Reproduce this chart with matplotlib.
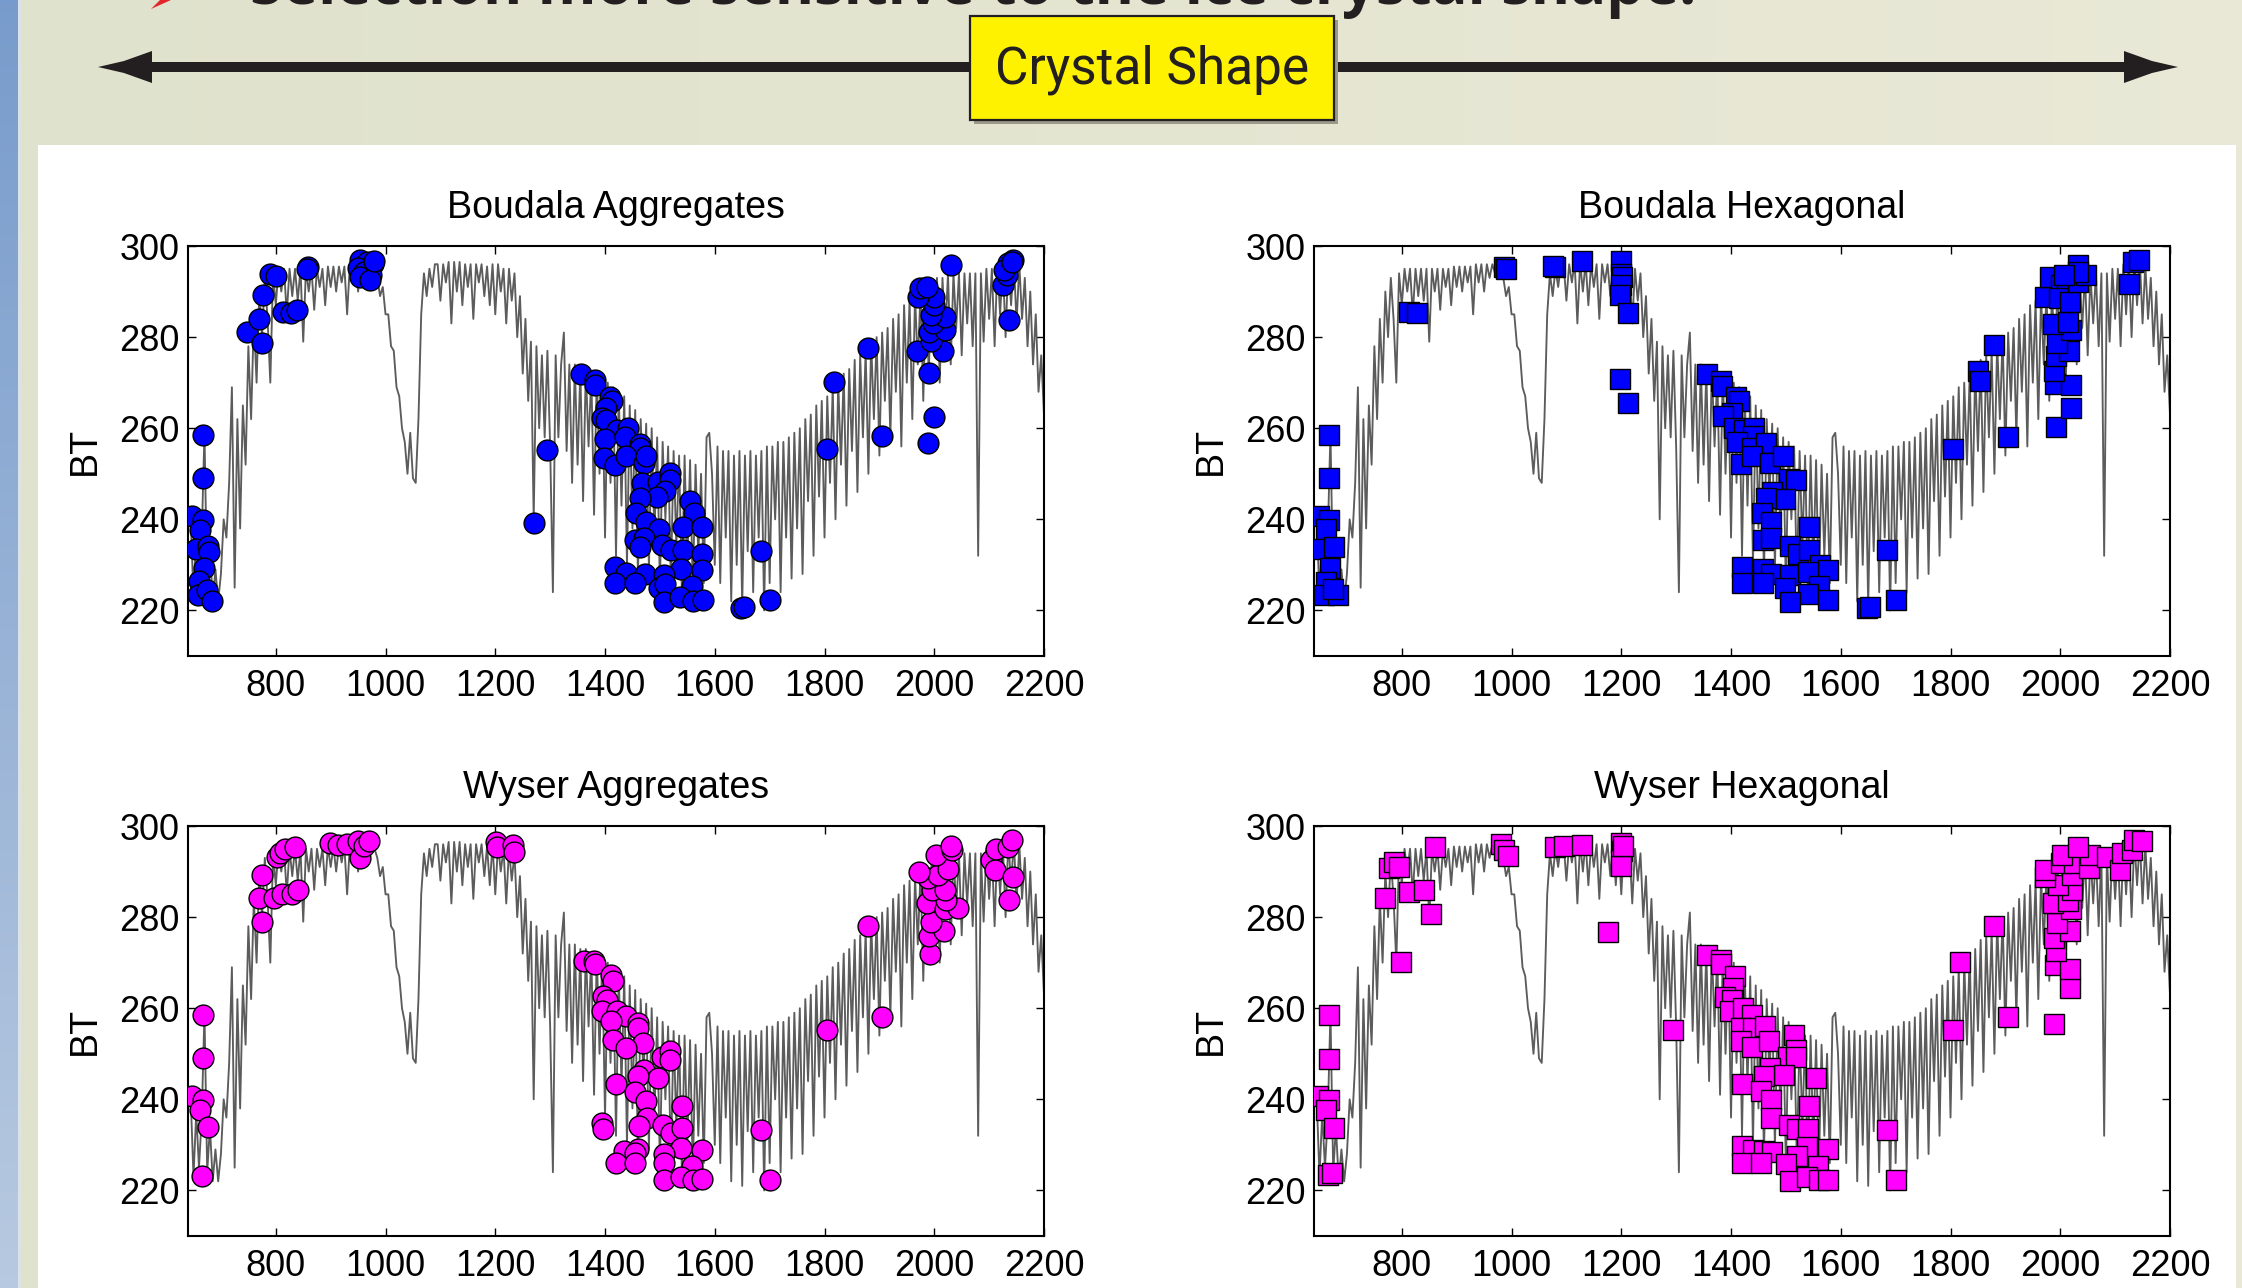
import numpy as np
import matplotlib

matplotlib.use("Agg")
import matplotlib.pyplot as plt
from matplotlib.patches import Polygon, Rectangle

W, H, DPI = 2242, 1288, 100

# --- simulated spectrum (BT every 5 cm-1 from 645 to 2200) ---
SPEC_START, SPEC_STEP = 645, 5
SPEC_BT = [
    240, 223, 237, 225, 236, 259, 224, 234, 222, 229,
    222, 228, 240, 236, 248, 269, 225, 262, 238, 265,
    252, 278, 262, 284, 270, 290, 280, 293, 284, 270,
    294, 287, 295, 290, 295, 285, 295, 289, 295, 288,
    295, 279, 295, 290, 295, 286, 295, 291, 295, 287,
    295.5, 291, 295.5, 290, 295.5, 292, 295.5, 285, 296, 292,
    296, 290, 296, 293, 296, 294, 296, 295, 293, 289,
    291, 285, 285, 278, 277, 269, 267, 260, 257, 250,
    259, 249, 248, 262, 285, 294, 289, 295, 291, 296,
    296, 288, 296, 292, 296.5, 283, 296.5, 290, 296.5, 287,
    296, 291, 296, 284, 296, 292, 296, 289, 295.5, 287,
    296, 285, 296, 290, 295, 283, 295, 288, 294, 280,
    289, 272, 284, 266, 279, 240, 278, 260, 276, 258,
    277, 256, 224, 276, 258, 274, 281, 255, 274, 248,
    274, 252, 273, 244, 273, 256, 272, 241, 272, 250,
    271, 236, 270, 248, 269, 232, 268, 243, 267, 230,
    265, 238, 264, 227, 262, 245, 261, 229, 260, 236,
    258, 225, 257, 240, 256, 226, 255, 234, 254, 224,
    254, 230, 253, 224, 252, 232, 250, 226, 258, 259,
    250, 230, 256, 226, 255, 236, 255, 222, 254, 230,
    255, 221, 254, 233, 255, 224, 254, 236, 255, 220,
    256, 226, 256, 240, 257, 224, 257, 236, 258, 227,
    259, 238, 260, 228, 262, 244, 263, 232, 265, 245,
    266, 236, 267, 248, 269, 240, 270, 252, 272, 243,
    273, 255, 275, 246, 276, 258, 277, 250, 279, 262,
    280, 254, 281, 266, 282, 258, 284, 268, 285, 256,
    287, 270, 288, 262, 289, 274, 290, 266, 291, 272,
    292, 276, 293, 270, 293, 280, 294, 274, 294, 282,
    294, 276, 294, 283, 294, 278, 294, 232, 294, 279,
    295, 284, 295, 278, 296, 285, 296, 280, 297, 287,
    297, 283, 296, 284, 293, 278, 290, 274, 285, 268,
    276, 263,
]

# --- selected channels, one pair of lists per panel ---
BA_WN = [667, 667, 647, 667, 662, 655, 677, 678, 670, 660, 658, 675, 683,
         747, 770, 775, 776, 790, 801, 814, 827, 839, 858, 856,
         954, 967, 977, 949, 961, 974, 954, 972, 979, 1271, 1295,
         1356, 1382, 1381, 1409, 1412, 1402, 1394, 1402, 1422, 1441, 1400, 1437,
         1463, 1463, 1398, 1419, 1439, 1471, 1475, 1467, 1496, 1518, 1519, 1510,
         1495, 1464, 1457, 1555, 1562, 1475, 1543, 1577, 1498, 1455, 1471, 1464,
         1504, 1520, 1543, 1577, 1538, 1577, 1419, 1439, 1473, 1508, 1419, 1455,
         1498, 1510, 1558, 1508, 1537, 1560, 1579, 1647, 1653, 1700, 1685,
         1805, 1818, 1880, 1904, 1989, 1999, 1991, 1969, 2016, 1994, 1990, 2019,
         1997, 2020, 1994, 2000, 1999, 1970, 1974, 1987, 2030, 2126, 2132, 2134,
         2144, 2137, 2128, 2141]
BA_BT = [258.6, 249, 240.8, 239.8, 237.6, 233.5, 234.1, 232.8, 229.3, 226.4, 223.3, 224.5, 222,
         281.2, 283.9, 278.7, 289.3, 293.9, 293.4, 285.6, 285.2, 286, 295.5, 295,
         296.9, 296.5, 296, 295.2, 294.4, 293.6, 293.3, 292.5, 296.6, 239.3, 255.2,
         271.9, 270.6, 269.5, 266.8, 266, 264.4, 262.2, 261.8, 259.6, 260.1, 257.6, 258,
         256.5, 255.6, 253.4, 252, 253.8, 252.3, 254, 247.9, 248.3, 250.1, 248.6, 246.2,
         245, 244.6, 241.5, 244, 241.3, 239.5, 238.4, 238.4, 237.8, 235.5, 235.8, 234,
         234.4, 233.3, 233.3, 232.5, 229.2, 228.9, 229.6, 228.3, 227.9, 227.8, 226, 226,
         225, 225.7, 225.4, 221.9, 223, 222, 222.3, 220.5, 220.7, 222.3, 233.1,
         255.4, 270.1, 277.7, 258.3, 256.8, 262.4, 272.1, 276.9, 277, 279.1, 281.2, 281.6,
         283.1, 284.5, 284.9, 287.1, 288.9, 288.9, 290.7, 291.1, 295.8, 291.4, 293.6, 296.3,
         296.9, 283.8, 294.7, 296.5]

BH_WN = [667, 668, 650, 667, 662, 655, 677, 670, 661, 658, 684, 675,
         814, 827, 986, 989, 1080, 1075, 1128, 1200, 1200, 1202, 1199, 1198, 1212,
         1198, 1212,
         1356, 1382, 1384, 1409, 1414, 1402, 1386, 1406, 1423, 1441, 1440, 1411,
         1439, 1463, 1464, 1419, 1439, 1471, 1495, 1506, 1519, 1475, 1498, 1464,
         1457, 1473, 1543, 1458, 1473, 1507, 1522, 1543, 1562, 1577, 1420, 1458,
         1473, 1508, 1540, 1420, 1458, 1498, 1560, 1540, 1508, 1577, 1647,
         1685, 1700, 1653, 1805, 1850, 1853, 1880, 1904, 1992, 2019, 1990, 2020,
         1989, 1992, 2016, 1994, 2019, 1987, 2015, 1972, 1982, 2002, 2012, 1997,
         2017, 2032, 2032, 2047, 2032, 2007, 2126, 2132, 2144]
BH_BT = [258.6, 249, 240.8, 239.8, 237.8, 233.5, 234, 229.3, 226.3, 223.5, 223.3, 224.7,
         285.5, 285.2, 295.3, 295, 295.5, 295.6, 296.6, 296.6, 293.9, 293.3, 291.4, 289.3, 285.2,
         270.9, 265.6,
         271.9, 270.3, 269.2, 266.8, 266, 263.3, 262.6, 260, 259.6, 260.1, 258.2, 256.9,
         255.6, 255.6, 256.7, 252.1, 253.8, 252.3, 254, 248.8, 248.6, 246.1, 244.5, 244.6,
         241.5, 239.5, 238.4, 235.5, 236, 234.2, 232.3, 233.3, 230, 228.9, 229.6, 229.2,
         227.9, 227.8, 228.4, 226, 226, 225, 225.4, 223.7, 221.9, 222.3, 220.5,
         233.3, 222.3, 220.7, 255.4, 272.6, 270.4, 278.2, 258.1, 260.2, 264.5, 269.6, 269.4,
         272.5, 275.8, 277, 278.7, 281.6, 282.9, 283.4, 288.9, 293.3, 291.4, 290, 288.5,
         287.8, 292.2, 295.8, 293.6, 294.4, 293.6, 291.6, 296.4, 296.9]

WA_WN = [667, 668, 647, 668, 662, 677, 665,
         775, 769, 775, 797, 812, 830, 840, 802, 807, 817, 835,
         898, 913, 929, 949, 954, 961, 969, 1202, 1204, 1232, 1234,
         1362, 1379, 1382, 1410, 1415, 1396, 1403, 1395, 1422, 1438, 1410, 1460,
         1460, 1470, 1415, 1438, 1504, 1519, 1519, 1471, 1496, 1461, 1420, 1455,
         1475, 1541, 1394, 1397, 1477, 1505, 1520, 1541, 1462, 1538, 1577, 1435,
         1460, 1455, 1508, 1420, 1455, 1508, 1558, 1508, 1538, 1561, 1577,
         1685, 1700, 1805, 1880, 1904, 1992, 1990, 2017, 1994, 1987, 2020, 2044,
         2022, 1995, 2020, 1989, 2007, 1972, 2025, 2004, 2032, 2030, 2103, 2110,
         2113, 2134, 2141, 2144, 2137]
WA_BT = [258.6, 249, 240.8, 239.8, 237.6, 234, 223.2,
         278.9, 284.2, 289.3, 284.2, 285.1, 285.1, 286, 293.3, 294, 294.9, 295.4,
         296.2, 295.9, 296.1, 296.6, 292.9, 295.6, 296.6, 296.4, 295.5, 295.9, 294.4,
         270.4, 270.3, 269.6, 267.4, 265.9, 262.6, 261.9, 259.3, 259.5, 258.2, 257.1, 256.8,
         255.7, 252.4, 253.1, 251.3, 249.3, 250.6, 248.7, 246.5, 244.7, 245.1, 243.4, 241.6,
         239.6, 238.5, 234.7, 233.4, 236, 234.3, 232.7, 233.8, 234.1, 229.4, 228.9, 228.6,
         229, 228.3, 227.9, 226.1, 226.1, 226.1, 225.3, 222.3, 223, 222.3, 222.6,
         233.2, 222.4, 255.3, 278.1, 258.1, 271.9, 275.9, 276.9, 278.9, 283.1, 281.8, 282,
         283.8, 286, 286, 288.5, 289.3, 290, 290.5, 293.6, 294.7, 295.6, 292.6, 290.4,
         295, 295.5, 297, 288.8, 283.7]

WH_WN = [667, 668, 648, 667, 662, 677, 665, 672,
         769, 777, 785, 795, 799, 814, 840, 853, 860, 981, 987, 994,
         1080, 1096, 1128, 1175, 1199, 1202, 1199, 1200, 1204,
         1295, 1356, 1382, 1382, 1408, 1403, 1389, 1401, 1399, 1422, 1438, 1418,
         1440, 1462, 1514, 1418, 1438, 1470, 1504, 1519, 1519, 1471, 1496, 1461,
         1554, 1420, 1455, 1473, 1543, 1473, 1505, 1520, 1541, 1538, 1577, 1420,
         1440, 1460, 1475, 1521, 1420, 1455, 1500, 1558, 1508, 1539, 1561, 1577,
         1685, 1700, 1805, 1818, 1880, 1904, 1989, 1990, 2018, 2017, 1992, 1989,
         2017, 1994, 2020, 1987, 2015, 2022, 1995, 1972, 2022, 1972, 2002, 2025,
         2004, 2053, 2055, 2032, 2085, 2108, 2113, 2131, 2134, 2149]
WH_BT = [258.6, 248.9, 240.7, 239.8, 237.6, 233.8, 223.3, 223.9,
         284.2, 290.8, 292.2, 291.1, 270.1, 285.5, 286, 280.7, 295.5, 296.1, 294.7, 293.4,
         295.4, 295.7, 295.8, 276.8, 296.3, 294.5, 292.6, 291.2, 295.6,
         255.3, 271.7, 270.6, 269.6, 267, 264.5, 262.5, 261.9, 259.3, 260.1, 258.6, 255.7,
         255.7, 256.1, 254.1, 252.8, 251.4, 252.8, 249.3, 250.8, 249.3, 246.8, 245.4, 245.2,
         244.6, 243.4, 241.8, 239.8, 238.5, 236, 234.4, 233.5, 233.5, 229.5, 229.1, 229.8,
         228.8, 228.6, 228.4, 227.5, 226.1, 226.1, 225.7, 225.3, 222.1, 222.9, 222.3, 222.4,
         233.2, 222.3, 255.3, 270.1, 278.1, 258.1, 256.6, 269.5, 264.4, 268.6, 272.5, 275.4,
         276.9, 278.7, 281.8, 283.1, 283.5, 286, 287.1, 288.9, 289.3, 290.4, 291.8, 291.8,
         293.6, 290.8, 293.6, 295.4, 293.2, 290.4, 294.1, 294.7, 296.9, 296.6]

TITLES = ["Boudala Aggregates", "Boudala Hexagonal", "Wyser Aggregates", "Wyser Hexagonal"]
PANELS = [(BA_WN, BA_BT, "o", "#0000ff"), (BH_WN, BH_BT, "s", "#0000ff"),
          (WA_WN, WA_BT, "o", "#ff00ff"), (WH_WN, WH_BT, "s", "#ff00ff")]
X_TICKS = [800, 1000, 1200, 1400, 1600, 1800, 2000, 2200]
Y_TICKS = [220, 240, 260, 280, 300]

plt.rcParams["font.family"] = ["Liberation Sans", "DejaVu Sans"]

fig = plt.figure(figsize=(W / DPI, H / DPI), dpi=DPI)

# --- slide background (pixel coords) ---
bg = fig.add_axes([0, 0, 1, 1])
bg.set_xlim(0, W)
bg.set_ylim(H, 0)
bg.axis("off")
img = np.ones((H, W, 3))
t = np.linspace(0, 1, W)[None, :, None]
img[:] = (1 - t) * np.array([0.875, 0.886, 0.800]) + t * np.array([0.915, 0.912, 0.842])
v = np.linspace(0, 1, H)[:, None, None]
img[:, :18] = (1 - v) * np.array([0.47, 0.61, 0.80]) + v * np.array([0.72, 0.79, 0.88])
img[:, 18:22] = [0.86, 0.89, 0.90]
bg.imshow(img, extent=(0, W, H, 0), aspect="auto", interpolation="bilinear")
bg.add_patch(Rectangle((38, 145), 2236 - 38, H - 145, fc="white", ec="none"))

# partially visible heading at the very top (cut by the page edge, as in the slide)
bg.add_patch(Polygon([(151, 9), (171, 0), (160, 0)], closed=True, fc="#e3262b", ec="none"))
bg.text(250, 4, "Selection more sensitive to the ice crystal shape.", fontsize=43,
        fontweight="bold", family=["Open Sans", "DejaVu Sans"], color="#231f20",
        va="baseline", ha="left")

# double-headed arrow
dark = "#231f20"
bg.add_patch(Rectangle((140, 62), 2135 - 140, 10, fc=dark, ec="none"))
bg.add_patch(Polygon([(98, 67), (124, 61), (152, 51), (152, 83), (124, 73)], fc=dark, ec="none"))
bg.add_patch(Polygon([(2178, 67), (2152, 61), (2124, 51), (2124, 83), (2152, 73)], fc=dark, ec="none"))

# yellow label box
bg.add_patch(Rectangle((974, 20), 364, 104, fc="#9a9a8a", ec="none"))
bg.add_patch(Rectangle((970, 16), 364, 104, fc="#fff200", ec=dark, lw=1.6))
bg.text(1152, 70, "Crystal Shape", fontsize=37, color=dark, ha="center", va="center",
        family=["Liberation Sans Narrow", "Roboto", "DejaVu Sans"])

# --- the four panels ---
spec_wn = SPEC_START + SPEC_STEP * np.arange(len(SPEC_BT))
positions = [(188, 246), (1314, 246), (188, 826), (1314, 826)]
ax_w, ax_h = 856, 410

for (px, py), title, (mwn, mbt, mk, col) in zip(positions, TITLES, PANELS):
    ax = fig.add_axes([px / W, 1 - (py + ax_h) / H, ax_w / W, ax_h / H])
    ax.plot(spec_wn, SPEC_BT, color="0.36", lw=1.35, zorder=2)
    ms = 15 if mk == "o" else 14
    ax.plot(mwn, mbt, ls="none", marker=mk, ms=ms, mfc=col, mec="black", mew=1.0, zorder=3)
    ax.set_xlim(640, 2200)
    ax.set_ylim(210, 300)
    ax.set_xticks(X_TICKS)
    ax.set_yticks(Y_TICKS)
    ax.tick_params(direction="in", length=6, width=1, top=True, right=True, labelsize=26)
    ax.tick_params(axis="x", pad=9)
    ax.tick_params(axis="y", pad=6)
    for s in ax.spines.values():
        s.set_linewidth(1.5)
    ax.set_title(title, fontsize=27, pad=20)
    ax.set_ylabel("BT", fontsize=27)
    ax.yaxis.set_label_coords(-0.10, 0.5)

fig.savefig("out.png", dpi=DPI)
